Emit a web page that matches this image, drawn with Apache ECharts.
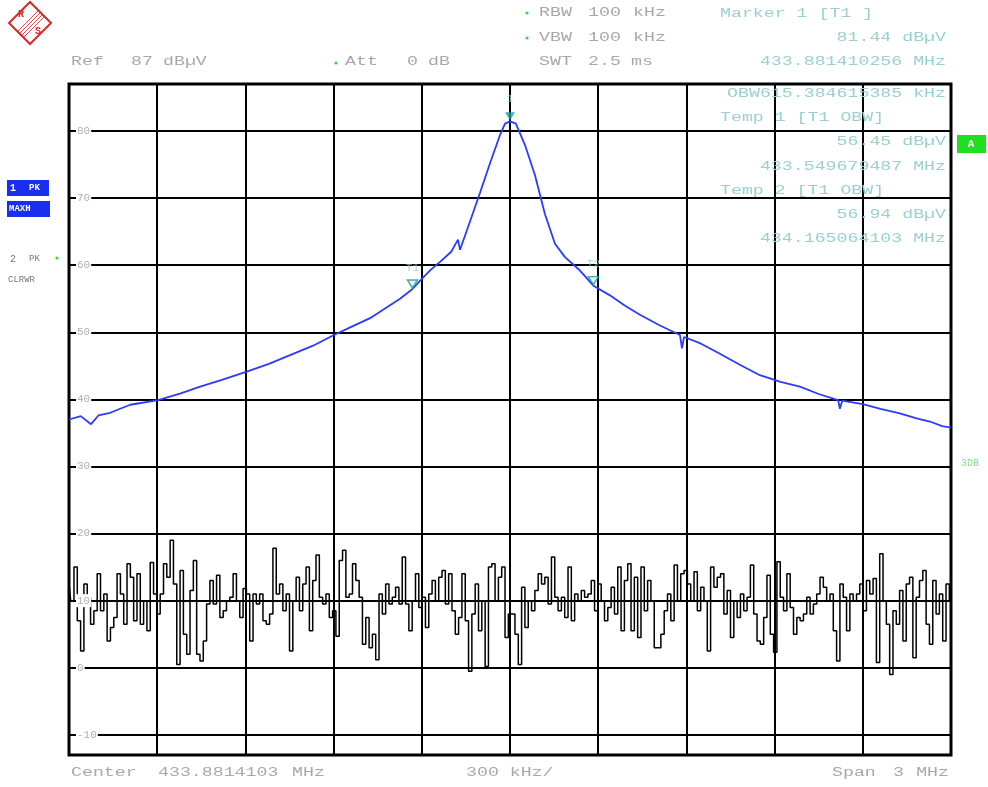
<!DOCTYPE html>
<html>
<head>
<meta charset="utf-8">
<script src="https://cdn.jsdelivr.net/npm/echarts@6/dist/echarts.min.js"></script>
<style>html,body{margin:0;padding:0;background:#fff}#c{width:988px;height:787px}</style>
</head>
<body>
<div id="c"></div>
<script>
// ---- data ----
var xTicksKHz = [-1500, -1200, -900, -600, -300, 0, 300, 600, 900, 1200, 1500];
var yTickLabels = ['-10', '0', '10', '20', '30', '40', '50', '60', '70', '80'];

var blueOffsetKHz = [-1500,-1460,-1425,-1400,-1360,-1292,-1197,-1120,-1054,-980,-898,-820,-748,-670,-599,-540,-476,-420,-374,-331.7,-299,-270,-238,-200,-177,-170,-136,-102,-68,-34,-17,0,20,51,85,119,153,187,238,283.65,340,390,442,510,578,585,592,650,714,780,850,920,986,1050,1116,1122,1130,1200,1260,1326,1380,1428,1470,1500];
var blueLevel = [37.0,37.5,36.3,37.6,38.0,39.2,39.9,40.9,41.9,42.9,44.1,45.3,46.6,48.0,49.6,50.8,52.1,53.7,55.0,56.45,58.0,59.3,60.5,62.0,63.8,62.3,66.5,70.8,75.2,79.4,81.1,81.44,81.1,77.9,73.4,67.6,63.2,61.2,59.2,56.94,55.5,54.0,52.6,51.0,49.6,47.6,49.3,48.3,46.8,45.2,43.6,42.6,41.9,40.8,39.9,38.6,39.8,39.3,38.6,37.9,37.2,36.7,36.0,35.8];

var noiseLevel = [
12.5,10,15,7,2.5,12.5,10.5,6.5,8.5,14,8.5,11,4,6,7.5,14,11,6.5,15.5,13.5,7,14,6.5,10,5.5,15.7,11,8,11,15.5,13.5,19,12.5,0.5,14.5,5,2,11.5,16,2,1,4,9.5,13,9.5,13.8,7.5,8.5,10,10.5,14,10,7.5,11.8,11,4,11,9.5,11,7,6.5,8,17.8,11,12.5,8.5,11,2.5,10,13.5,8.5,12.5,15,5.5,13,16.8,10.5,9.5,11,7.5,8.5,4.7,16,17.5,10.5,11,15.5,13,
10.5,3.5,7.5,3,5,1.2,11,8,12.5,9.5,10.5,12,9.5,16.5,9.5,5.5,10,14,9,10.5,6,11,13,10,13.5,14.5,9.5,14,8.5,5,7.5,14,7,-0.5,8,12.5,5.5,10,0.2,15,15.5,10,13.5,15,4.5,8,8,5,0.5,12,6,10,8.5,11.5,14,12.5,13.5,9.5,16.5,10.5,8.5,10.5,7.5,15,7,11,10,11.5,10.5,11,13,8.5,12.5,10,7,9,12,8,15,5.5,13,15.5,5.5,13.5,4.5,15,8.5,13,10,3,
3,5,8.5,11,7,15.3,10,14,14.5,12.5,10,14.3,8.5,12,10,2.5,15,12,13.5,14,8,11.5,4.5,10,7.5,11,8.5,10.5,15.3,8,4,3.5,7.5,13.8,5,2.3,15.8,10.5,8.5,14,9,5,7.5,7,8,10.5,8,9.5,11,13.5,12,10,11,5.5,1,12.5,10.5,5.5,11,10,11,12.5,8.5,13,11,13.3,0.8,17,10,6.5,-1,8.5,6.5,11.5,4,12.5,13.5,1.5,10.5,13,14.5,6.5,3.5,13,8,11,4,12.5,10
];

var markerNames = ['1', 'T1', 'T2'];
var markerOffsetKHz = [0.0, -331.73, 283.65];
var markerLevel = [81.44, 56.45, 56.94];

// ---- build ----
var blueData = blueOffsetKHz.map(function (f, i) { return [f, blueLevel[i]]; });
var noiseData = noiseLevel.map(function (v, i) { return [-1500 + i * 3000 / (noiseLevel.length - 1), v]; });

var MONO = '"Liberation Mono", "DejaVu Sans Mono", monospace';
var SX = 1.52;
var GRAY = '#a8a8a8';
var TEAL = '#9ad0d0';
var GREEN = '#33dd33';

function T(text, x, y, color, align) {
  return {
    type: 'text', x: x, y: y, scaleX: SX, z: 100,
    style: { text: text, fill: color, font: '12px ' + MONO, align: align || 'left', verticalAlign: 'middle' }
  };
}
function dot(x, y) {
  return { type: 'circle', z: 100, shape: { cx: x, cy: y, r: 1.6 }, style: { fill: GREEN } };
}

var graphics = [
  dot(527, 13), T('RBW', 539, 13, GRAY), T('100', 588, 13, GRAY), T('kHz', 633, 13, GRAY),
  dot(527, 38), T('VBW', 539, 38, GRAY), T('100', 588, 38, GRAY), T('kHz', 633, 38, GRAY),
  T('SWT', 539, 62, GRAY), T('2.5', 588, 62, GRAY), T('ms', 631, 62, GRAY),
  T('Ref', 71, 62, GRAY), T('87', 131, 62, GRAY), T('dB\u00b5V', 163, 62, GRAY),
  dot(336, 63), T('Att', 345, 62, GRAY), T('0', 407, 62, GRAY), T('dB', 428, 62, GRAY),
  T('Marker 1 [T1 ]', 720, 14, TEAL),
  T('81.44 dB\u00b5V', 946, 38, TEAL, 'right'),
  T('433.881410256 MHz', 946, 62, TEAL, 'right'),
  T('OBW615.384615385 kHz', 946, 94, TEAL, 'right'),
  T('Temp 1 [T1 OBW]', 720, 118, TEAL),
  T('56.45 dB\u00b5V', 946, 142, TEAL, 'right'),
  T('433.549679487 MHz', 946, 167, TEAL, 'right'),
  T('Temp 2 [T1 OBW]', 720, 191, TEAL),
  T('56.94 dB\u00b5V', 946, 215, TEAL, 'right'),
  T('434.165064103 MHz', 946, 239, TEAL, 'right'),
  T('Center', 71, 773, GRAY), T('433.8814103', 158, 773, GRAY), T('MHz', 292, 773, GRAY),
  T('300 kHz/', 466, 773, GRAY),
  T('Span', 832, 773, GRAY), T('3', 893, 773, GRAY), T('MHz', 949, 773, GRAY, 'right'),
  { type: 'rect', z: 90, shape: { x: 7, y: 180, width: 42, height: 16 }, style: { fill: '#1a2ef0' } },
  { type: 'text', z: 100, x: 10, y: 188, style: { text: '1', fill: '#fff', font: 'bold 10px ' + MONO, verticalAlign: 'middle' } },
  { type: 'text', z: 100, x: 29, y: 188, style: { text: 'PK', fill: '#fff', font: 'bold 9px ' + MONO, verticalAlign: 'middle' } },
  { type: 'rect', z: 90, shape: { x: 7, y: 201, width: 43, height: 16 }, style: { fill: '#1a2ef0' } },
  { type: 'text', z: 100, x: 9, y: 209, style: { text: 'MAXH', fill: '#fff', font: 'bold 9px ' + MONO, verticalAlign: 'middle' } },
  { type: 'text', z: 100, x: 10, y: 259, style: { text: '2', fill: '#777', font: '10px ' + MONO, verticalAlign: 'middle' } },
  { type: 'text', z: 100, x: 29, y: 259, style: { text: 'PK', fill: '#777', font: '9px ' + MONO, verticalAlign: 'middle' } },
  dot(57, 258),
  { type: 'text', z: 100, x: 8, y: 280, style: { text: 'CLRWR', fill: '#777', font: '9px ' + MONO, verticalAlign: 'middle' } },
  { type: 'rect', z: 90, shape: { x: 957, y: 135, width: 29, height: 18 }, style: { fill: '#1ee01e' } },
  { type: 'text', z: 100, x: 971, y: 144, style: { text: 'A', fill: '#fff', font: 'bold 11px ' + MONO, align: 'center', verticalAlign: 'middle' } },
  { type: 'text', z: 100, x: 961, y: 463, style: { text: '3DB', fill: '#88dd88', font: '10px ' + MONO, verticalAlign: 'middle' } },
  { type: 'polygon', z: 100, shape: { points: [[30, 2], [51, 23], [30, 44], [9, 23]] }, style: { fill: 'none', stroke: '#d42a2a', lineWidth: 2 } },
  { type: 'line', z: 100, shape: { x1: 38, y1: 11, x2: 18, y2: 31 }, style: { stroke: '#e05050', lineWidth: 1 } },
  { type: 'line', z: 100, shape: { x1: 40, y1: 13, x2: 20, y2: 33 }, style: { stroke: '#e05050', lineWidth: 1 } },
  { type: 'line', z: 100, shape: { x1: 42, y1: 15, x2: 22, y2: 35 }, style: { stroke: '#e05050', lineWidth: 1 } },
  { type: 'line', z: 100, shape: { x1: 44, y1: 17, x2: 24, y2: 37 }, style: { stroke: '#e05050', lineWidth: 1 } },
  { type: 'text', z: 100, x: 21, y: 14, style: { text: 'R', fill: '#d42a2a', font: 'bold 10px ' + MONO, align: 'center', verticalAlign: 'middle' } },
  { type: 'text', z: 100, x: 38, y: 31, style: { text: 'S', fill: '#d42a2a', font: 'bold 10px ' + MONO, align: 'center', verticalAlign: 'middle' } }
];

var chart = echarts.init(document.getElementById('c'), null, { renderer: 'canvas' });
chart.setOption({
  backgroundColor: '#fff',
  animation: false,
  grid: { left: 69, top: 84, right: 37, bottom: 32, show: true, borderColor: '#000', borderWidth: 3, backgroundColor: 'transparent' },
  xAxis: {
    type: 'value', min: xTicksKHz[0], max: xTicksKHz[xTicksKHz.length - 1], interval: 300,
    axisLine: { show: false }, axisTick: { show: false }, axisLabel: { show: false },
    splitLine: { show: true, lineStyle: { color: '#000', width: 2 } }
  },
  yAxis: [
    {
      type: 'value', min: -13, max: 87, splitNumber: 10,
      axisLine: { show: false }, axisTick: { show: false }, axisLabel: { show: false },
      splitLine: { show: true, lineStyle: { color: '#000', width: 2 } }
    },
    {
      type: 'value', min: -13, max: 87, splitNumber: 10, position: 'left', z: 20,
      axisLine: { show: false }, axisTick: { show: false }, splitLine: { show: false },
      axisLabel: {
        inside: true, margin: 7, color: '#b0b0b0', fontFamily: MONO, fontSize: 11,
        backgroundColor: '#fff', padding: [1, 1],
        showMinLabel: false, showMaxLabel: false,
        formatter: function (v) { var s = String(v); return yTickLabels.indexOf(s) >= 0 ? s : ''; }
      }
    }
  ],
  series: [
    {
      name: 'noise', type: 'line', data: noiseData, step: 'middle', showSymbol: false,
      lineStyle: { color: '#000', width: 1.5 }, z: 3
    },
    {
      name: 'trace1', type: 'line', data: blueData, showSymbol: false,
      lineStyle: { color: '#2a3cff', width: 1.8 }, z: 4
    },
    {
      name: 'markers', type: 'scatter', z: 6,
      data: markerNames.map(function (n, i) {
        return {
          value: [markerOffsetKHz[i], markerLevel[i]], name: n,
          itemStyle: i === 0 ? { color: '#1a9a9a' } : { color: '#dff3f3', borderColor: '#1a9a9a', borderWidth: 1.5 },
          label: { distance: i === 0 ? 8 : 6 }
        };
      }),
      symbol: 'triangle', symbolRotate: 180, symbolSize: [10, 8], symbolOffset: [0, -5],
      label: { show: true, position: 'top', formatter: '{b}', color: '#8fcaca', fontFamily: MONO, fontSize: 11 }
    }
  ],
  graphic: graphics
});
</script>
</body>
</html>
